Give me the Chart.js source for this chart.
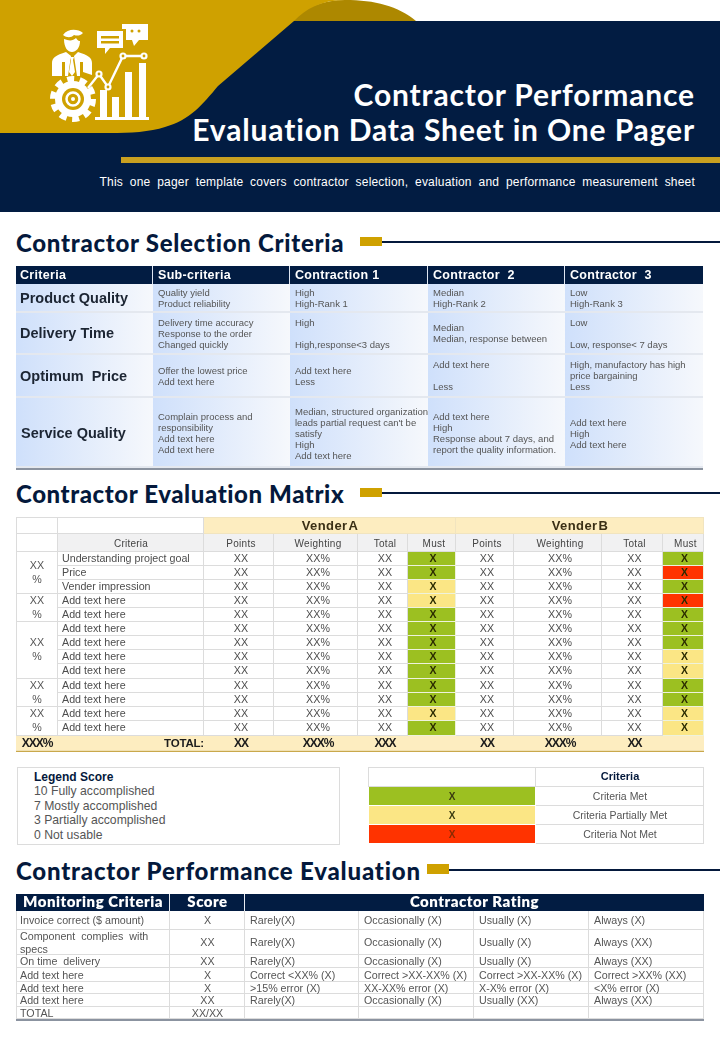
<!DOCTYPE html>
<html lang="en">

<head>
  <meta charset="UTF-8">
  <title>Contractor Performance Evaluation Data Sheet in One Pager</title>
  <script src="https://cdn.jsdelivr.net/npm/chart.js"></script>
  <style>
    html, body { margin: 0; padding: 0; background: #fff; }
    #page { position: relative; width: 720px; height: 1040px; overflow: hidden; font-family: "Liberation Sans", Arial, sans-serif; }
    #page canvas { position: absolute; }
    #page svg { position: absolute; left: 0; top: 0; }
    .abs { position: absolute; white-space: nowrap; }
    .title { right: 25px; color: #fff; font: 700 30px/36px Lato, sans-serif; text-align: right; letter-spacing: 0.85px; }
    .subtitle { right: 25px; top: 174px; color: #fff; font-size: 12px; line-height: 16px; letter-spacing: 0.2px; word-spacing: 3.25px; }
    .heading { left: 16px; color: #04193c; font: 900 24px/30px Lato, sans-serif; }
    .chip { background: #cfa100; }
    .rule { background: #04193c; right: 0; }
    #legendScore { left: 17px; top: 767px; width: 321px; border: 1px solid #dcdcdc; color: #555; font-size: 12.2px; line-height: 14.4px; padding-top: 2px; height: 74px; }
    #legendScore div { padding-left: 16px; }
    #legendScore .top { color: #04193c; font-weight: 700; font-size: 12px; }
  </style>
</head>

<body>
  <div id="page">
    <!-- Header shapes and icon -->
    <svg width="720" height="215" viewBox="0 0 720 215">
      <path d="M290 21 C305 6 325 0 345 0 C375 0 398 6 416 21 Z" fill="#ad8800" />
      <rect x="0" y="21" width="720" height="191" fill="#021c42" />
      <path d="M0 0 H345 C322 0 305 9 294 21 L218 86 C203 104 190 120 165 127 C150 132 130 133 110 133 H0 Z" fill="#cfa100" />
      <rect x="121" y="157" width="599" height="6" fill="#c9a020" />
      <g fill="#fff">
        <!-- person -->
        <path d="M63 35 C68 28 78 29 83 33 C80 36 77 36 74 35 C71 38 67 38 63 35 Z" />
        <path d="M64 39 C69 41 73 41 76 38 C78 41 79 41 80 41 C80 48 76 52 72 52 C68 52 64 48 64 39 Z" />
        <path d="M52 76 V63 C52 58 56 55 66 52 L71 56 L68 76 H65 V62 H62 V76 Z" />
        <path d="M92 75 V63 C92 58 88 55 78 52 L74 56 L77 76 H80 V62 H83 V72 Z" />
        <path d="M70 57 H74 L73 60 L75 72 L72 76 L69 72 L71 60 Z" />
        <!-- bubbles -->
        <path d="M97 31 H123 V48 H110 L105 54 V48 H97 Z" />
        <path d="M122 24 H148 V40 H139 L134 46 L132 40 H126 V29 H122 Z" />
        <!-- gear -->
        <circle cx="73" cy="99" r="18" />
        <circle cx="73" cy="99" r="20" fill="none" stroke="#fff" stroke-width="6" stroke-dasharray="7 5.55" />
        <!-- bars -->
        <rect x="100" y="90" width="7" height="28" />
        <rect x="112" y="97" width="7" height="21" />
        <rect x="125" y="72" width="7" height="46" />
        <rect x="139" y="63" width="7" height="55" />
        <rect x="95" y="117" width="54" height="3" />
        <!-- trend line -->
        <path d="M88 88 L99 74 L108 87 L123 56 H144" fill="none" stroke="#fff" stroke-width="2.4" />
        <circle cx="99" cy="74" r="3.6" /><circle cx="108" cy="87" r="3.6" /><circle cx="123" cy="56" r="3.6" /><circle cx="144" cy="56" r="3.6" />
      </g>
      <g fill="#cfa100">
        <rect x="101" y="36" width="18" height="2.5" /><rect x="101" y="41" width="18" height="2.5" />
        <circle cx="132" cy="31" r="1.5" /><circle cx="139" cy="31" r="1.5" />
        <circle cx="99" cy="74" r="1.4" /><circle cx="108" cy="87" r="1.4" /><circle cx="123" cy="56" r="1.4" /><circle cx="144" cy="56" r="1.4" />
        <circle cx="73" cy="99" r="11" />
      </g>
      <circle cx="73" cy="99" r="6.5" fill="none" stroke="#fff" stroke-width="2.5" />
      <circle cx="73" cy="99" r="2" fill="#fff" />
    </svg>

    <div class="abs title" style="top:76px">Contractor Performance</div>
    <div class="abs title" style="top:111px">Evaluation Data Sheet in One Pager</div>
    <div class="abs subtitle">This one pager template covers contractor selection, evaluation and performance measurement sheet</div>

    <div class="abs heading" style="top:228px;letter-spacing:0.72px">Contractor Selection Criteria</div>
    <div class="abs chip" style="left:360px;top:237px;width:22px;height:9px"></div>
    <div class="abs rule" style="left:382px;top:241px;height:2px"></div>
    <canvas id="tabelaSelecao"></canvas>

    <div class="abs heading" style="top:479px;letter-spacing:0.58px">Contractor Evaluation Matrix</div>
    <div class="abs chip" style="left:360px;top:488px;width:22px;height:9px"></div>
    <div class="abs rule" style="left:382px;top:492px;height:2px"></div>
    <canvas id="tabelaMatriz"></canvas>

    <div class="abs" id="legendScore"></div>
    <canvas id="tabelaChave"></canvas>

    <div class="abs heading" style="top:856px;letter-spacing:0.8px">Contractor Performance Evaluation</div>
    <div class="abs chip" style="left:427px;top:864px;width:22px;height:10px"></div>
    <div class="abs rule" style="left:449px;top:869px;height:1.5px"></div>
    <canvas id="tabelaDesempenho"></canvas>
  </div>
</body>

</html>
<script>
  // Selection table
  var selectionHeaders = ['Criteria', 'Sub-criteria', 'Contraction 1', 'Contractor  2', 'Contractor  3'];
  var criteriaNames = ['Product Quality', 'Delivery Time', 'Optimum  Price', 'Service Quality'];
  var subCriteria = [
    ['Quality yield', 'Product reliability'],
    ['Delivery time accuracy', 'Response to the order', 'Changed quickly'],
    ['Offer the lowest price', 'Add text here'],
    ['Complain process and', 'responsibility', 'Add text here', 'Add text here']
  ];
  var contraction1 = [
    ['High', 'High-Rank 1'],
    ['High', '', 'High,response<3 days'],
    ['Add text here', 'Less'],
    ['Median, structured organization', 'leads partial request can\'t be', 'satisfy', 'High', 'Add text here']
  ];
  var contractor2 = [
    ['Median', 'High-Rank 2'],
    ['Median', 'Median, response between'],
    ['Add text here', '', 'Less'],
    ['Add text here', 'High', 'Response about 7 days, and', 'report the quality information.']
  ];
  var contractor3 = [
    ['Low', 'High-Rank 3'],
    ['Low', '', 'Low, response< 7 days'],
    ['High, manufactory has high', 'price bargaining', 'Less'],
    ['Add text here', 'High', 'Add text here']
  ];

  // Evaluation matrix
  var venderNames = ['Vender A', 'Vender B'];
  var matrixHeaders = ['Points', 'Weighting', 'Total', 'Must'];
  var groupLabels = ['XX', 'XX', 'XX', 'XX', 'XX'];
  var groupSizes = [3, 2, 4, 2, 2];
  var matrixCriteria = ['Understanding project goal', 'Price', 'Vender impression', 'Add text here', 'Add text here', 'Add text here', 'Add text here', 'Add text here', 'Add text here', 'Add text here', 'Add text here', 'Add text here', 'Add text here'];
  var venderAPoints = ['XX', 'XX', 'XX', 'XX', 'XX', 'XX', 'XX', 'XX', 'XX', 'XX', 'XX', 'XX', 'XX'];
  var venderAWeighting = ['XX%', 'XX%', 'XX%', 'XX%', 'XX%', 'XX%', 'XX%', 'XX%', 'XX%', 'XX%', 'XX%', 'XX%', 'XX%'];
  var venderATotal = ['XX', 'XX', 'XX', 'XX', 'XX', 'XX', 'XX', 'XX', 'XX', 'XX', 'XX', 'XX', 'XX'];
  var venderAMust = ['met', 'met', 'partial', 'partial', 'met', 'met', 'met', 'met', 'met', 'met', 'met', 'partial', 'met'];
  var venderBPoints = ['XX', 'XX', 'XX', 'XX', 'XX', 'XX', 'XX', 'XX', 'XX', 'XX', 'XX', 'XX', 'XX'];
  var venderBWeighting = ['XX%', 'XX%', 'XX%', 'XX%', 'XX%', 'XX%', 'XX%', 'XX%', 'XX%', 'XX%', 'XX%', 'XX%', 'XX%'];
  var venderBTotal = ['XX', 'XX', 'XX', 'XX', 'XX', 'XX', 'XX', 'XX', 'XX', 'XX', 'XX', 'XX', 'XX'];
  var venderBMust = ['met', 'not', 'met', 'not', 'met', 'met', 'met', 'partial', 'partial', 'met', 'met', 'partial', 'partial'];
  var totalRow = ['XXX%', 'TOTAL:', 'XX', 'XXX%', 'XXX', '', 'XX', 'XXX%', 'XX', ''];

  // Legend and colour key
  var legendScoreLines = ['Legend Score', '10 Fully accomplished', '7 Mostly accomplished', '3 Partially accomplished', '0 Not usable'];
  var keyStatus = ['met', 'partial', 'not'];
  var keyLabels = ['Criteria Met', 'Criteria Partially Met', 'Criteria Not Met'];

  // Performance table
  var performanceHeaders = ['Monitoring Criteria', 'Score', 'Contractor Rating'];
  var monitoringCriteria = [['Invoice correct ($ amount)'], ['Component  complies  with', 'specs'], ['On time  delivery'], ['Add text here'], ['Add text here'], ['Add text here'], ['TOTAL']];
  var scores = ['X', 'XX', 'XX', 'X', 'X', 'XX', 'XX/XX'];
  var ratingRarely = ['Rarely(X)', 'Rarely(X)', 'Rarely(X)', 'Correct <XX% (X)', '>15% error (X)', 'Rarely(X)', ''];
  var ratingOccasionally = ['Occasionally (X)', 'Occasionally (X)', 'Occasionally (X)', 'Correct >XX-XX% (X)', 'XX-XX% error (X)', 'Occasionally (X)', ''];
  var ratingUsually = ['Usually (X)', 'Usually (X)', 'Usually (X)', 'Correct >XX-XX% (X)', 'X-X% error (X)', 'Usually (XX)', ''];
  var ratingAlways = ['Always (X)', 'Always (XX)', 'Always (XX)', 'Correct >XX% (XX)', '<X% error (X)', 'Always (XX)', ''];

  // Layout (page pixels), kept apart from the data
  var colsSelecao = [16, 153, 290, 428, 565, 703];
  var rowsSelecao = [266, 284, 313, 355, 398, 468, 470];
  var colsMatriz = [16, 58, 204, 274, 358, 408, 456, 514, 602, 663, 704];
  var rowsMatriz = [517, 534, 552, 566, 580, 594, 608, 622, 636, 650, 664, 679, 693, 707, 721, 736, 752];
  var colsChave = [368, 536, 704];
  var rowsChave = [767, 787, 806, 825, 844];
  var colsDesempenho = [16, 170, 245, 359, 474, 589, 704];
  var rowsDesempenho = [894, 911, 930, 955, 968, 982, 994, 1007, 1019, 1021];

  var statusColors = { met: '#9cc021', partial: '#fbe685', not: '#ff3300' };
  var fonte = '"Liberation Sans", Arial, sans-serif';
  var navy = '#021c42';
  var grade = '#dcdcdc';

  // Draws the text of each cell on top of its bar
  var textoCelulas = {
    id: 'textoCelulas',
    afterDatasetsDraw: function (chart) {
      var ctx = chart.ctx;
      chart.data.datasets.forEach(function (dataset, i) {
        chart.getDatasetMeta(i).data.forEach(function (bar, j) {
          var cell = dataset.cells[j];
          if (!cell.lines || !cell.lines.length) return;
          var left = bar.x - bar.width / 2;
          var right = bar.x + bar.width / 2;
          var top = Math.min(bar.y, bar.base);
          var bottom = Math.max(bar.y, bar.base);
          var lh = cell.lh || 11;
          var pad = cell.pad === undefined ? 4 : cell.pad;
          var y = (top + bottom) / 2 - (cell.lines.length - 1) * lh / 2 + (cell.dy || 0);
          ctx.save();
          ctx.font = cell.font;
          ctx.fillStyle = cell.color || '#555';
          ctx.textBaseline = 'middle';
          ctx.textAlign = cell.align || 'left';
          ctx.letterSpacing = cell.spacing || '0px';
          ctx.wordSpacing = cell.wordSpacing || '0px';
          var x = cell.align === 'center' ? (left + right) / 2 + (cell.dx || 0) : cell.align === 'right' ? right - pad : left + pad;
          cell.lines.forEach(function (line, k) {
            ctx.fillText(line, x, y + k * lh);
          });
          ctx.restore();
        });
      });
    }
  };

  function corCelula(context) {
    if (context.dataIndex === undefined) return 'transparent';
    var cell = context.dataset.cells[context.dataIndex];
    if (!cell.gradient) return cell.fill || '#fff';
    var chart = context.chart;
    if (!chart.chartArea) return cell.gradient[0];
    var g = chart.ctx.createLinearGradient(chart.scales.x.getPixelForValue(cell.x0), 0, chart.scales.x.getPixelForValue(cell.x1), 0);
    g.addColorStop(0, cell.gradient[0]);
    g.addColorStop(1, cell.gradient[1]);
    return g;
  }

  // Every cell is a floating bar on two linear scales; one dataset per column span
  function plotarTabela(id, cols, rows, cells) {
    var canvas = document.getElementById(id);
    var x0 = cols[0], x1 = cols[cols.length - 1], y0 = rows[0], y1 = rows[rows.length - 1];
    canvas.width = x1 - x0;
    canvas.height = y1 - y0;
    canvas.style.left = x0 + 'px';
    canvas.style.top = y0 + 'px';

    var porColuna = {};
    cells.forEach(function (cell) {
      cell.x0 = cols[cell.c0];
      cell.x1 = cols[cell.c1];
      var chave = cell.c0 + '-' + cell.c1;
      if (!porColuna[chave]) {
        porColuna[chave] = {
          data: [], cells: [], grouped: false, inflateAmount: 0, borderSkipped: false,
          barThickness: cell.x1 - cell.x0, backgroundColor: corCelula, borderColor: [], borderWidth: []
        };
      }
      var d = porColuna[chave];
      d.data.push({ x: (cell.x0 + cell.x1) / 2, y: [rows[cell.r0], rows[cell.r1]] });
      d.cells.push(cell);
      d.borderColor.push(cell.line || grade);
      d.borderWidth.push(cell.border !== undefined ? cell.border : { top: cell.r0 === 0 ? 1 : 0, left: cell.c0 === 0 ? 1 : 0, right: 1, bottom: 1 });
    });

    new Chart(canvas, {
      type: 'bar',
      data: { datasets: Object.keys(porColuna).map(function (k) { return porColuna[k]; }) },
      options: {
        responsive: false,
        animation: false,
        events: [],
        layout: { padding: 0 },
        plugins: { legend: { display: false }, tooltip: { enabled: false } },
        scales: {
          x: { type: 'linear', min: x0, max: x1, offset: false, display: false },
          y: { type: 'linear', min: y0, max: y1, reverse: true, display: false }
        }
      },
      plugins: [textoCelulas]
    });
  }

  function plotarSelecao() {
    var cells = [];
    var linhaClara = { top: 0, left: 0, right: 0, bottom: 2 };
    selectionHeaders.forEach(function (h, c) {
      cells.push({
        c0: c, c1: c + 1, r0: 0, r1: 1, fill: navy, lines: [h], color: '#fff', font: 'bold 12.5px ' + fonte, dy: 0.5,
        pad: c === 0 ? 4 : 5, spacing: '0.3px', line: '#dfe6f2', border: { top: 0, left: 0, right: c < 4 ? 1 : 0, bottom: 0 }
      });
    });
    var colunas = [subCriteria, contraction1, contractor2, contractor3];
    criteriaNames.forEach(function (nome, r) {
      cells.push({
        c0: 0, c1: 1, r0: r + 1, r1: r + 2, gradient: ['#cfe0fb', '#f6f8fc'], lines: [nome], color: '#1c2533',
        font: 'bold 14.5px ' + fonte, line: '#e4e8ef', border: linhaClara, dy: r === 3 ? 1 : 0, pad: r === 3 ? 5 : 4
      });
      colunas.forEach(function (coluna, c) {
        cells.push({
          c0: c + 1, c1: c + 2, r0: r + 1, r1: r + 2, gradient: ['#cfe0fb', '#f6f8fc'], lines: coluna[r], color: '#555',
          font: '9.5px ' + fonte, pad: 5, lh: 11, line: '#e4e8ef', border: linhaClara, dy: r === 3 ? 1 : 0
        });
      });
    });
    cells.push({ c0: 0, c1: 5, r0: 5, r1: 6, fill: '#8b93a0', line: '#8b93a0', border: 0 });
    plotarTabela('tabelaSelecao', colsSelecao, rowsSelecao, cells);
  }

  function plotarMatriz() {
    var cells = [];
    var texto = '10.7px ' + fonte;
    var titulo = '10px ' + fonte;
    var creme = '#fdedc0';
    var cinza = '#f1f1f2';

    // Top two rows
    cells.push({ c0: 0, c1: 1, r0: 0, r1: 1 }, { c0: 1, c1: 2, r0: 0, r1: 1 });
    [0, 1].forEach(function (v) {
      cells.push({ c0: 2 + v * 4, c1: 6 + v * 4, r0: 0, r1: 1, fill: creme, line: '#f1e4bf', lines: [venderNames[v]], align: 'center', color: '#3a2f14', font: 'bold 13px ' + fonte, spacing: '0.4px', wordSpacing: '-3px', dy: 1 });
    });
    cells.push({ c0: 0, c1: 1, r0: 1, r1: 2 });
    cells.push({ c0: 1, c1: 2, r0: 1, r1: 2, fill: cinza, lines: ['Criteria'], align: 'center', font: titulo, color: '#444', spacing: '0.2px', dy: 1 });
    [0, 1].forEach(function (v) {
      matrixHeaders.forEach(function (h, c) {
        cells.push({ c0: 2 + v * 4 + c, c1: 3 + v * 4 + c, r0: 1, r1: 2, fill: cinza, lines: [h], align: 'center', font: titulo, color: '#444', spacing: '0.3px', dx: 2, dy: 1 });
      });
    });

    // Merged group cells on the left
    var linha = 2;
    groupSizes.forEach(function (n, g) {
      cells.push({ c0: 0, c1: 1, r0: linha, r1: linha + n, lines: [groupLabels[g], '%'], align: 'center', font: texto, lh: 14 });
      linha += n;
    });

    var colunas = [venderAPoints, venderAWeighting, venderATotal, venderAMust, venderBPoints, venderBWeighting, venderBTotal, venderBMust];
    matrixCriteria.forEach(function (nome, r) {
      cells.push({ c0: 1, c1: 2, r0: r + 2, r1: r + 3, lines: [nome], font: texto, color: '#4d4d4d', pad: 4 });
      colunas.forEach(function (coluna, c) {
        var status = statusColors[coluna[r]];
        if (status) {
          cells.push({ c0: c + 2, c1: c + 3, r0: r + 2, r1: r + 3, fill: status, lines: ['X'], align: 'center', color: '#2b2b00', font: 'bold 10.5px ' + fonte, line: '#eef2dc', dx: 1 });
        } else {
          cells.push({ c0: c + 2, c1: c + 3, r0: r + 2, r1: r + 3, lines: [coluna[r]], align: 'center', font: texto, color: '#4d4d4d', dx: 2 });
        }
      });
    });

    // Total row
    totalRow.forEach(function (t, c) {
      cells.push({
        c0: c, c1: c + 1, r0: 15, r1: 16, fill: creme, lines: t ? [t] : [], align: c === 1 ? 'right' : 'center', pad: 0,
        font: c === 1 ? 'bold 11.5px ' + fonte : 'bold 12px ' + fonte, color: '#1c1c1c', line: '#c9a84c',
        border: { top: 0, left: 0, right: 0, bottom: 1.5 }, spacing: c === 1 ? '-0.2px' : '-1px', dx: c === 0 ? 0 : 2, dy: -0.5
      });
    });
    plotarTabela('tabelaMatriz', colsMatriz, rowsMatriz, cells);
  }

  function plotarChave() {
    var cells = [];
    cells.push({ c0: 0, c1: 1, r0: 0, r1: 1 });
    cells.push({ c0: 1, c1: 2, r0: 0, r1: 1, lines: ['Criteria'], align: 'center', font: 'bold 11px ' + fonte, color: '#04193c' });
    keyStatus.forEach(function (s, r) {
      cells.push({ c0: 0, c1: 1, r0: r + 1, r1: r + 2, fill: statusColors[s], lines: ['X'], align: 'center', font: 'bold 10px ' + fonte, color: s === 'not' ? '#8a2a00' : '#3b3b10', line: '#fff', dy: 1 });
      cells.push({ c0: 1, c1: 2, r0: r + 1, r1: r + 2, lines: [keyLabels[r]], align: 'center', font: '10.5px ' + fonte, dy: 1 });
    });
    plotarTabela('tabelaChave', colsChave, rowsChave, cells);
  }

  function plotarDesempenho() {
    var cells = [];
    var titulo = '800 15px Lato, sans-serif';
    var texto = '10.7px ' + fonte;
    var semBorda = { top: 0, left: 0, right: 1, bottom: 0 };
    cells.push({ c0: 0, c1: 1, r0: 0, r1: 1, fill: navy, lines: [performanceHeaders[0]], align: 'center', color: '#fff', font: titulo, spacing: '0.5px', line: '#e8ecf2', border: semBorda });
    cells.push({ c0: 1, c1: 2, r0: 0, r1: 1, fill: navy, lines: [performanceHeaders[1]], align: 'center', color: '#fff', font: titulo, spacing: '0.5px', line: '#e8ecf2', border: semBorda });
    cells.push({ c0: 2, c1: 6, r0: 0, r1: 1, fill: navy, lines: [performanceHeaders[2]], align: 'center', color: '#fff', font: titulo, spacing: '0.5px', border: 0 });
    monitoringCriteria.forEach(function (linhas, r) {
      cells.push({ c0: 0, c1: 1, r0: r + 1, r1: r + 2, lines: linhas, font: texto, lh: 13, dy: 1 });
      cells.push({ c0: 1, c1: 2, r0: r + 1, r1: r + 2, lines: [scores[r]], align: 'center', font: texto, dy: 1 });
      [ratingRarely, ratingOccasionally, ratingUsually, ratingAlways].forEach(function (coluna, c) {
        cells.push({ c0: c + 2, c1: c + 3, r0: r + 1, r1: r + 2, lines: coluna[r] ? [coluna[r]] : [], font: texto, pad: 5, dy: 1 });
      });
    });
    cells.push({ c0: 0, c1: 6, r0: 8, r1: 9, fill: '#8b93a0', line: '#8b93a0', border: 0 });
    plotarTabela('tabelaDesempenho', colsDesempenho, rowsDesempenho, cells);
  }

  document.getElementById('legendScore').innerHTML = legendScoreLines.map(function (l, i) {
    return '<div class="' + (i === 0 ? 'top' : '') + '">' + l + '</div>';
  }).join('');

  plotarSelecao();
  plotarMatriz();
  plotarChave();
  plotarDesempenho();
</script>
